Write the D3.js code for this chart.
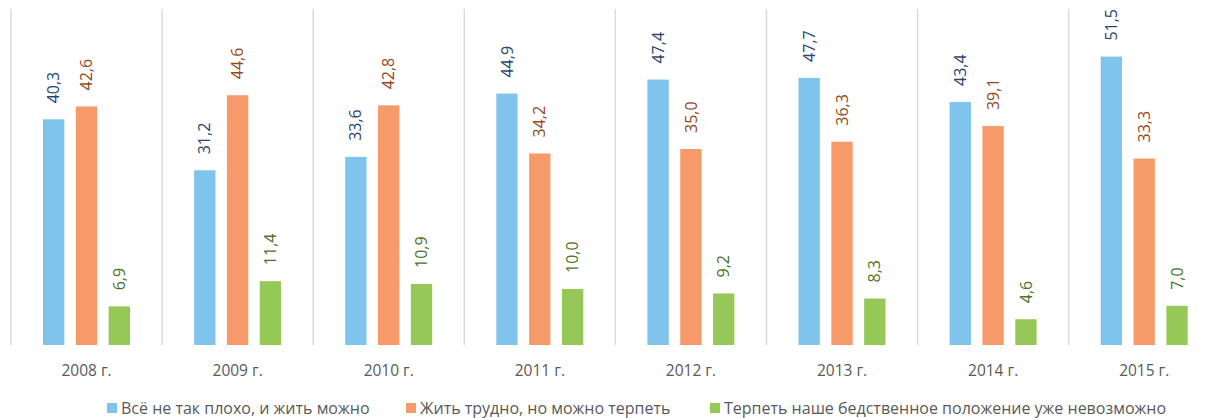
<!DOCTYPE html>
<html>
<head>
<meta charset="utf-8">
<script src="https://cdn.jsdelivr.net/npm/d3@7"></script>
<style>
  body { margin: 0; background: #fff; }
  svg { display: block; font-family: "Open Sans", sans-serif; }
</style>
</head>
<body>
<div id="chart"></div>
<script>
// data
const years = ["2008 г.", "2009 г.", "2010 г.", "2011 г.", "2012 г.", "2013 г.", "2014 г.", "2015 г."];
const seriesNames = [
  "Всё не так плохо, и жить можно",
  "Жить трудно, но можно терпеть",
  "Терпеть наше бедственное положение уже невозможно"
];
const notBad = [40.3, 31.2, 33.6, 44.9, 47.4, 47.7, 43.4, 51.5];
const hardButOk = [42.6, 44.6, 42.8, 34.2, 35.0, 36.3, 39.1, 33.3];
const unbearable = [6.9, 11.4, 10.9, 10.0, 9.2, 8.3, 4.6, 7.0];

const seriesValues = [notBad, hardButOk, unbearable];
const barColors = ["#7fc4ec", "#f79a6a", "#96c857"];
const labelColors = ["#2b4470", "#96471c", "#4a7328"];

const width = 1211, height = 418;
const baseY = 345, topY = 9;

const svg = d3.select("#chart").append("svg")
  .attr("width", width)
  .attr("height", height);

// category scale, one band per year
const x0 = d3.scaleBand()
  .domain(years)
  .range([11, 11 + 151.1 * years.length])
  .paddingInner(0)
  .paddingOuter(0);

// series inside each year
const x1 = d3.scaleBand()
  .domain(d3.range(seriesNames.length))
  .range([32, 119])
  .paddingInner(0.35)
  .paddingOuter(0);

const y = d3.scaleLinear()
  .domain([0, 60])
  .range([baseY, topY]);

// vertical separators
svg.append("g")
  .selectAll("line")
  .data(years)
  .enter().append("line")
  .attr("x1", d => x0(d))
  .attr("x2", d => x0(d))
  .attr("y1", topY)
  .attr("y2", baseY)
  .attr("stroke", "#d9d9d9")
  .attr("stroke-width", 1.5);

// flatten into one record per bar
const bars = [];
years.forEach((yr, i) => {
  seriesValues.forEach((vals, s) => {
    bars.push({ year: yr, s: s, v: vals[i] });
  });
});

svg.append("g")
  .selectAll("rect")
  .data(bars)
  .enter().append("rect")
  .attr("x", d => x0(d.year) + x1(d.s))
  .attr("y", d => y(d.v))
  .attr("width", x1.bandwidth())
  .attr("height", d => baseY - y(d.v))
  .attr("fill", d => barColors[d.s]);

// value labels, rotated
const fmt = v => d3.format(".1f")(v).replace(".", ",");
svg.append("g")
  .selectAll("text")
  .data(bars)
  .enter().append("text")
  .attr("transform", d => {
    const cx = x0(d.year) + x1(d.s) + x1.bandwidth() / 2;
    return `translate(${cx},${y(d.v) - 16}) rotate(-90)`;
  })
  .attr("dy", "0.35em")
  .attr("text-anchor", "start")
  .attr("font-size", "16px")
  .attr("fill", d => labelColors[d.s])
  .text(d => fmt(d.v));

// year labels
svg.append("g")
  .selectAll("text")
  .data(years)
  .enter().append("text")
  .attr("x", d => x0(d) + x0.bandwidth() / 2)
  .attr("y", 376)
  .attr("text-anchor", "middle")
  .attr("font-size", "15.5px")
  .attr("fill", "#595959")
  .text(d => d);

// legend
const legendX = [107, 406, 710];
const legend = svg.append("g");
seriesNames.forEach((name, i) => {
  legend.append("rect")
    .attr("x", legendX[i])
    .attr("y", 403)
    .attr("width", 10)
    .attr("height", 10)
    .attr("fill", barColors[i]);
  legend.append("text")
    .attr("x", legendX[i] + 14)
    .attr("y", 414)
    .attr("font-size", "16px")
    .attr("fill", "#595959")
    .text(name);
});
</script>
</body>
</html>
